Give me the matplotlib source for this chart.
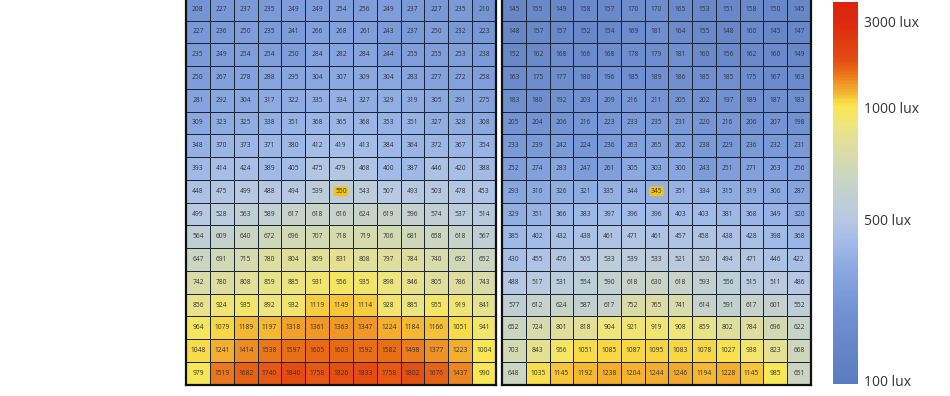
import numpy as np
import matplotlib
matplotlib.use("Agg")
from matplotlib import pyplot as plt
from matplotlib.colors import LinearSegmentedColormap, FuncNorm
from matplotlib.cm import ScalarMappable

plt.rcParams['font.family'] = ['Open Sans', 'DejaVu Sans']

# valeurs en lux, grille de gauche
gauche = [
  [208, 227, 237, 235, 249, 249, 254, 256, 249, 237, 227, 235, 210],
  [227, 236, 250, 235, 241, 266, 268, 261, 243, 237, 250, 232, 223],
  [235, 249, 254, 254, 250, 284, 282, 284, 244, 255, 255, 253, 238],
  [250, 267, 278, 288, 295, 304, 307, 309, 304, 283, 277, 272, 258],
  [281, 292, 304, 317, 322, 335, 334, 327, 329, 319, 305, 291, 275],
  [309, 323, 325, 338, 351, 368, 365, 368, 353, 351, 327, 328, 308],
  [348, 370, 373, 371, 380, 412, 419, 413, 384, 364, 372, 367, 354],
  [393, 414, 424, 389, 405, 475, 479, 468, 400, 387, 446, 420, 388],
  [448, 475, 499, 488, 494, 539, 550, 543, 507, 493, 503, 478, 453],
  [499, 528, 563, 589, 617, 618, 616, 624, 619, 596, 574, 537, 514],
  [564, 609, 640, 672, 696, 707, 718, 719, 706, 681, 658, 618, 567],
  [647, 691, 715, 780, 804, 809, 831, 808, 797, 784, 740, 692, 652],
  [742, 780, 808, 859, 885, 931, 956, 935, 898, 846, 805, 786, 743],
  [856, 924, 935, 892, 932, 1119, 1149, 1114, 928, 885, 955, 919, 841],
  [964, 1079, 1189, 1197, 1318, 1361, 1363, 1347, 1224, 1184, 1166, 1051, 941],
  [1048, 1241, 1414, 1538, 1597, 1605, 1603, 1592, 1582, 1498, 1377, 1223, 1004],
  [979, 1519, 1682, 1740, 1840, 1758, 1826, 1833, 1758, 1802, 1676, 1437, 990],
]

# grille de droite
droite = [
  [145, 155, 149, 158, 157, 170, 170, 165, 153, 151, 158, 150, 145],
  [148, 157, 157, 152, 154, 169, 181, 164, 155, 148, 160, 145, 147],
  [152, 162, 168, 166, 168, 178, 179, 181, 160, 156, 162, 160, 149],
  [163, 175, 177, 180, 196, 185, 189, 186, 185, 185, 175, 167, 163],
  [183, 180, 192, 203, 209, 216, 211, 205, 202, 197, 189, 187, 183],
  [205, 204, 206, 216, 223, 233, 235, 231, 220, 216, 206, 207, 198],
  [233, 239, 242, 224, 236, 263, 265, 262, 238, 229, 236, 232, 231],
  [252, 274, 283, 247, 261, 305, 303, 300, 243, 251, 271, 263, 256],
  [293, 310, 326, 321, 335, 344, 345, 351, 334, 315, 319, 306, 287],
  [329, 351, 366, 383, 397, 396, 396, 403, 403, 381, 368, 349, 320],
  [385, 402, 432, 438, 461, 471, 461, 457, 458, 438, 428, 398, 368],
  [430, 455, 476, 505, 533, 539, 533, 521, 520, 494, 471, 446, 422],
  [488, 517, 531, 554, 590, 618, 630, 618, 593, 556, 515, 511, 486],
  [577, 612, 624, 587, 617, 752, 765, 741, 614, 591, 617, 601, 552],
  [652, 724, 801, 818, 904, 921, 919, 908, 859, 802, 784, 696, 622],
  [703, 843, 956, 1051, 1085, 1087, 1095, 1083, 1078, 1027, 938, 823, 668],
  [648, 1035, 1145, 1192, 1238, 1204, 1244, 1246, 1194, 1228, 1145, 985, 651],
]

# case mise en évidence (ligne, colonne)
centre = (8, 6)

ticks_lux = [100, 500, 1000, 3000]
labels_lux = ['100 lux', '500 lux', '1000 lux', '3000 lux']

# échelle non linéaire de la barre de couleurs
ancres_val = [90, 100, 500, 1000, 3000, 3600]
ancres_pos = [0.0, 0.01, 0.43, 0.725, 0.948, 1.0]
lv = np.log(ancres_val)

def fwd(x):
  x = np.clip(np.asarray(x, dtype=float), 1, None)
  return np.interp(np.log(x), lv, ancres_pos)

def inv(y):
  return np.exp(np.interp(np.asarray(y, dtype=float), ancres_pos, lv))

norm = FuncNorm((fwd, inv), vmin=90, vmax=3600)

# couleurs selon la valeur en lux
coul_val = [90, 150, 210, 300, 400, 500, 600, 700, 800, 900, 1000, 1100, 1200, 1350,
            1500, 1650, 1850, 3000, 3600]
coul_hex = ['#5a7bbd', '#6888c9', '#7494d4', '#89a7e0', '#a2bbe8', '#b7c9e2', '#c4d1cf',
            '#d2d9b4', '#e0de9c', '#eee57e', '#f9e650', '#f8d444', '#f4b632', '#f09a28',
            '#eb7c1c', '#e86616', '#e44c12', '#dc2a10', '#da2410']
cmap = LinearSegmentedColormap.from_list('lux', list(zip(fwd(coul_val), coul_hex)))

fig = plt.figure(figsize=(9.5, 3.96), dpi=100)

def grille(ax, data):
  data = np.array(data)
  ax.pcolormesh(data, cmap=cmap, norm=norm, edgecolors='#1c2633', linewidth=0.6)
  ax.set_xlim(0, data.shape[1])
  ax.set_ylim(data.shape[0], 0)
  ax.set_xticks([])
  ax.set_yticks([])
  for s in ax.spines.values():
    s.set_linewidth(1.6)
    s.set_color('#111111')
  for i in range(data.shape[0]):
    for j in range(data.shape[1]):
      kw = {}
      if (i, j) == centre:
        kw['bbox'] = dict(boxstyle='round,pad=0.2', fc='#f2c318', ec='none')
      ax.text(j + 0.5, i + 0.5, str(data[i, j]), ha='center', va='center',
              fontsize=4.8, color='#333333', **kw)

ax1 = fig.add_axes([186/950, 0.0285, 310/950, 0.977])
grille(ax1, gauche)
ax2 = fig.add_axes([502/950, 0.0285, 309/950, 0.977])
grille(ax2, droite)

cax = fig.add_axes([833/950, 12/396, 25/950, 382/396])
cb = fig.colorbar(ScalarMappable(norm=norm, cmap=cmap), cax=cax)
cb.outline.set_visible(False)
cb.set_ticks(ticks_lux)
cb.set_ticklabels(labels_lux)
cax.tick_params(length=0, pad=4, labelsize=10, labelcolor='#333333')
cax.minorticks_off()

fig.savefig('out.png', dpi=100)
